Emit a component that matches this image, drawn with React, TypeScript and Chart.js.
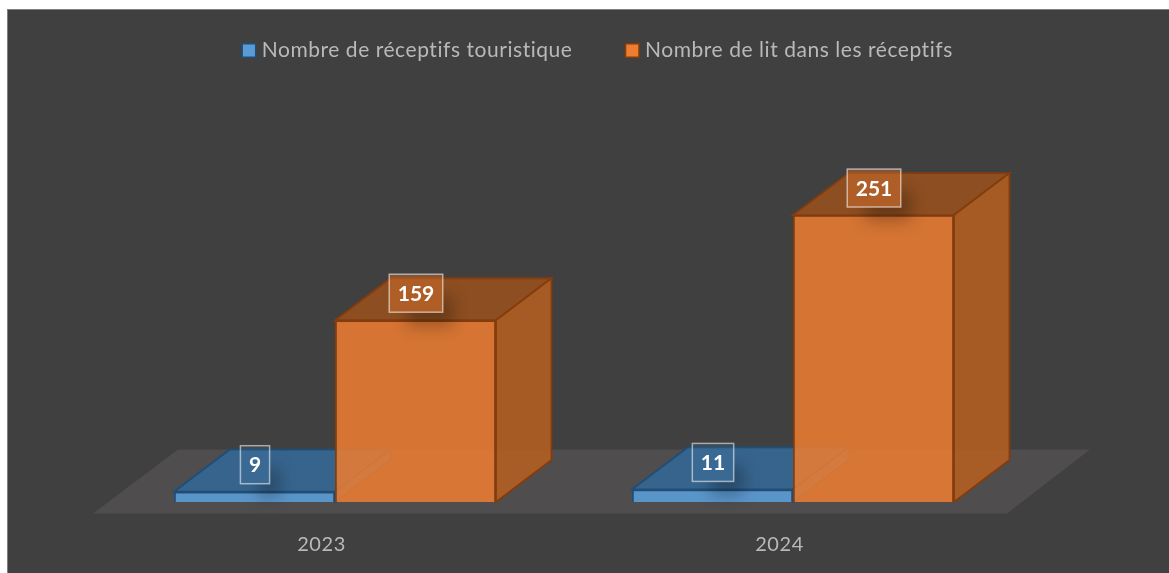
import React, { useEffect, useRef } from "react";
import { Chart, registerables } from "chart.js";

Chart.register(...registerables);

const categories = ["2023", "2024"];
const receptifs = [9, 11];
const lits = [159, 251];
const seriesNames = ["Nombre de réceptifs touristique", "Nombre de lit dans les réceptifs"];

const FONT = "Lato";
const TEXT = "#b9b9b9";
const DX = 55.5;
const DY = -42;
const SPACING = "0.55px";

const looks = [
  { front: "rgba(91,155,213,0.92)", top: "rgba(50,103,152,0.85)", side: "rgba(60,115,165,0.85)", back: "rgba(91,155,213,0.06)", edge: "#1f4e79", swatch: "#5b9bd5" },
  { front: "rgba(237,125,49,0.85)", top: "rgba(153,80,28,0.85)", side: "rgba(183,95,32,0.85)", back: "rgba(237,125,49,0.08)", edge: "#843c0c", swatch: "#ed7d31" },
];

function poly(ctx: CanvasRenderingContext2D, pts: number[][], fill: string | null, stroke: string | null, lw = 1.8) {
  ctx.beginPath();
  pts.forEach((p, i) => (i ? ctx.lineTo(p[0], p[1]) : ctx.moveTo(p[0], p[1])));
  ctx.closePath();
  if (fill) {
    ctx.fillStyle = fill;
    ctx.fill();
  }
  if (stroke) {
    ctx.strokeStyle = stroke;
    ctx.lineWidth = lw;
    ctx.stroke();
  }
}

function barBox(el: any) {
  const half = el.width / 2;
  return { l: el.x - half, r: el.x + half, t: el.y, b: el.base };
}

function drawCube(chart: any, index: number) {
  const { ctx } = chart;
  const look = looks[index];
  const meta = chart.getDatasetMeta(index);
  meta.data.forEach((el: any) => {
    const { l, r, t, b } = barBox(el);
    poly(ctx, [[l, b], [r, b], [r + DX, b + DY], [l + DX, b + DY]], look.back, null);
    poly(ctx, [[l, b], [l + DX, b + DY], [l + DX, t + DY], [l, t]], look.back, null);
    poly(ctx, [[l + DX, b + DY], [r + DX, b + DY], [r + DX, t + DY], [l + DX, t + DY]], look.back, look.back, 1);
  });
  meta.controller.draw();
  meta.data.forEach((el: any) => {
    const { l, r, t, b } = barBox(el);
    poly(ctx, [[l, t], [r, t], [r + DX, t + DY], [l + DX, t + DY]], look.top, look.edge);
    poly(ctx, [[r, t], [r + DX, t + DY], [r + DX, b + DY], [r, b]], look.side, look.edge);
  });
}

const cubePlugin = {
  id: "cube",
  beforeLayout(chart: any) {
    chart.ctx.letterSpacing = SPACING;
  },
  beforeDraw(chart: any) {
    const { ctx, width, height } = chart;
    ctx.letterSpacing = SPACING;
    ctx.save();
    ctx.fillStyle = "#ffffff";
    ctx.fillRect(0, 0, width, height);
    ctx.fillStyle = "#404040";
    ctx.fillRect(7, 9, width - 7, height - 9);
    ctx.fillStyle = "#7f7f7f";
    ctx.fillRect(7, 9, width - 7, 1);
    ctx.fillRect(7, 9, 1, height - 9);
    ctx.restore();
  },
  beforeDatasetsDraw(chart: any) {
    const { ctx, chartArea } = chart;
    const base = chart.scales.y.getPixelForValue(0);
    const fy = base + 11.5;
    const by = base - 52.5;
    poly(ctx, [
      [chartArea.left - 13, fy],
      [chartArea.right - 15, fy],
      [chartArea.right + 68, by],
      [chartArea.left + 72, by],
    ], "#4f4d4d", null);
    // the blue series goes under the orange one, so both are painted here in that order
    drawCube(chart, 0);
    drawCube(chart, 1);
  },
  beforeDatasetDraw() {
    return false;
  },
  afterDatasetsDraw(chart: any) {
    const { ctx } = chart;
    [0, 1].forEach((i) => {
      const values = chart.data.datasets[i].data;
      chart.getDatasetMeta(i).data.forEach((el: any, j: number) => {
        const text = String(values[j]);
        ctx.save();
        ctx.letterSpacing = "0px";
        ctx.font = `bold 21px ${FONT}`;
        const w = ctx.measureText(text).width + 17;
        const h = 38;
        const x = el.x - w / 2 + 0.5;
        const y = el.y - 27 - h / 2;
        // soft shadow, kept outside of the label
        ctx.save();
        ctx.beginPath();
        ctx.rect(0, 0, chart.width, chart.height);
        ctx.rect(x, y, w, h);
        ctx.clip("evenodd");
        ctx.shadowColor = "rgba(0,0,0,0.26)";
        ctx.shadowBlur = 16;
        ctx.shadowOffsetX = 14 + 3000;
        ctx.shadowOffsetY = 20;
        ctx.fillStyle = "#000";
        ctx.fillRect(x + 4 - 3000, y + 2, w - 8, h - 8);
        ctx.restore();
        ctx.fillStyle = i === 0 ? "rgba(91,155,213,0.1)" : "rgba(237,125,49,0.35)";
        ctx.fillRect(x, y, w, h);
        ctx.strokeStyle = "rgba(255,255,255,0.55)";
        ctx.lineWidth = 1.5;
        ctx.strokeRect(x, y, w, h);
        ctx.fillStyle = "#ffffff";
        ctx.textAlign = "center";
        ctx.textBaseline = "middle";
        ctx.fillText(text, x + w / 2, y + h / 2 + 1);
        ctx.restore();
      });
    });
    // legend swatches, placed from the legend's own layout
    (chart.legend.legendHitBoxes || []).forEach((hit: any, i: number) => {
      const look = looks[i];
      const size = 13.5;
      const y = hit.top + (hit.height - size) / 2;
      ctx.save();
      ctx.fillStyle = look.swatch;
      ctx.strokeStyle = look.edge;
      ctx.lineWidth = 1.5;
      ctx.fillRect(hit.left, y, size, size);
      ctx.strokeRect(hit.left, y, size, size);
      ctx.restore();
    });
  },
};

export default function App() {
  const ref = useRef<HTMLCanvasElement | null>(null);
  useEffect(() => {
    document.body.style.margin = "0";
    const chart = new Chart(ref.current!, {
      type: "bar",
      data: {
        labels: categories,
        datasets: [
          { label: seriesNames[0], data: receptifs, backgroundColor: looks[0].front, borderColor: looks[0].edge, borderWidth: 1.8, categoryPercentage: 0.703, barPercentage: 1 },
          { label: seriesNames[1], data: lits, backgroundColor: looks[1].front, borderColor: looks[1].edge, borderWidth: 1.8, categoryPercentage: 0.703, barPercentage: 1 },
        ],
      },
      options: {
        responsive: false,
        animation: false,
        devicePixelRatio: 1,
        layout: { padding: { left: 26, top: -13, right: 0, bottom: 0 } },
        plugins: {
          tooltip: { enabled: false },
          legend: {
            position: "top",
            align: "center",
            labels: {
              color: TEXT,
              font: { family: FONT, size: 21 },
              boxWidth: 9,
              boxHeight: 13,
              padding: 53,
              generateLabels: (c: any) =>
                c.data.datasets.map((d: any, i: number) => ({
                  text: d.label,
                  fillStyle: "rgba(0,0,0,0)",
                  strokeStyle: "rgba(0,0,0,0)",
                  lineWidth: 0,
                  fontColor: TEXT,
                  datasetIndex: i,
                })),
            },
          },
        },
        scales: {
          x: {
            grid: { display: false },
            border: { display: false },
            ticks: { color: TEXT, font: { family: FONT, size: 20 }, padding: 23, labelOffset: -13.5, maxRotation: 0 },
            afterFit: (s: any) => { s.height = 71; },
          },
          y: {
            min: 0,
            max: 377,
            grid: { display: false },
            border: { display: false },
            ticks: { display: false },
            afterFit: (s: any) => { s.width = 80; },
          },
          yRight: {
            position: "right",
            min: 0,
            max: 377,
            grid: { display: false },
            border: { display: false },
            ticks: { display: false },
            afterFit: (s: any) => { s.width = 147; },
          },
        },
      } as any,
      plugins: [cubePlugin],
    });
    return () => chart.destroy();
  }, []);
  return (
    <canvas
      ref={ref}
      width={1169}
      height={573}
      style={{ position: "fixed", left: 0, top: 0, width: 1169, height: 573, display: "block" }}
    />
  );
}
